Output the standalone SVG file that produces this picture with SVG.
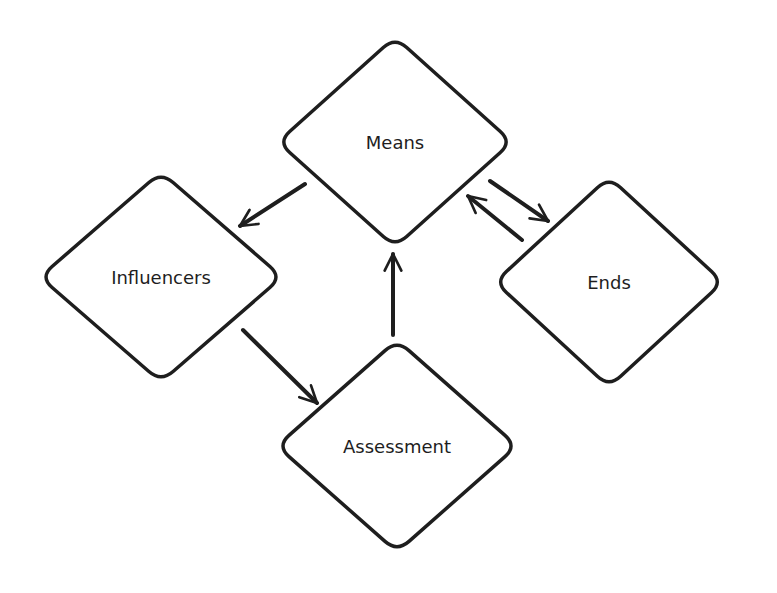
<svg xmlns="http://www.w3.org/2000/svg" width="777" height="593" viewBox="0 0 777 593">
<style>
.n{fill:#fff;stroke:#1e1e1e;stroke-width:3.5;stroke-linejoin:round}
.t{font-family:"Comic Sans MS","DejaVu Sans",sans-serif;font-size:18px;fill:#1e1e1e;text-anchor:middle;dominant-baseline:central}
.c{stroke:#1e1e1e;stroke-width:4;fill:none;stroke-linecap:round;marker-end:url(#a)}
</style>
<defs><marker id="a" viewBox="0 0 12 12" refX="11" refY="6" markerWidth="5" markerHeight="5" orient="auto" markerUnits="strokeWidth"><polyline points="1,1 11,6 1,11" fill="none" stroke="#1e1e1e" stroke-width="1.6" stroke-linecap="round" stroke-linejoin="round"/></marker></defs>
<rect width="777" height="593" fill="#fff"/>
<g id="means"><path class="n" d="M383.3,47.5 Q395,37 406.7,47.5 L500.3,131.5 Q512,142 500.3,152.5 L406.7,236.5 Q395,247 383.3,236.5 L289.7,152.5 Q278,142 289.7,131.5 Z"/><text class="t" x="395" y="142">Means</text></g>
<g id="influencers"><path class="n" d="M148.9,182.5 Q161,172 173.1,182.5 L269.9,266.5 Q282,277 269.9,287.5 L173.1,371.5 Q161,382 148.9,371.5 L52.1,287.5 Q40,277 52.1,266.5 Z"/><text class="t" x="161" y="277">Influencers</text></g>
<g id="ends"><path class="n" d="M597.6,187.5 Q609,177 620.4,187.5 L711.6,271.5 Q723,282 711.6,292.5 L620.4,376.5 Q609,387 597.6,376.5 L506.4,292.5 Q495,282 506.4,271.5 Z"/><text class="t" x="609" y="282">Ends</text></g>
<g id="assessment"><path class="n" d="M385,350.6 Q397,340 409,350.6 L505,435.4 Q517,446 505,456.6 L409,541.4 Q397,552 385,541.4 L289,456.6 Q277,446 289,435.4 Z"/><text class="t" x="397" y="446">Assessment</text></g>
<g id="connectors">
<line class="c" x1="305" y1="184" x2="240" y2="226"/>
<line class="c" x1="243" y1="330" x2="317" y2="403"/>
<line class="c" x1="393" y1="335" x2="393" y2="254"/>
<line class="c" x1="490" y1="181" x2="548" y2="221"/>
<line class="c" x1="522" y1="240" x2="468" y2="196"/>
</g>
</svg>
